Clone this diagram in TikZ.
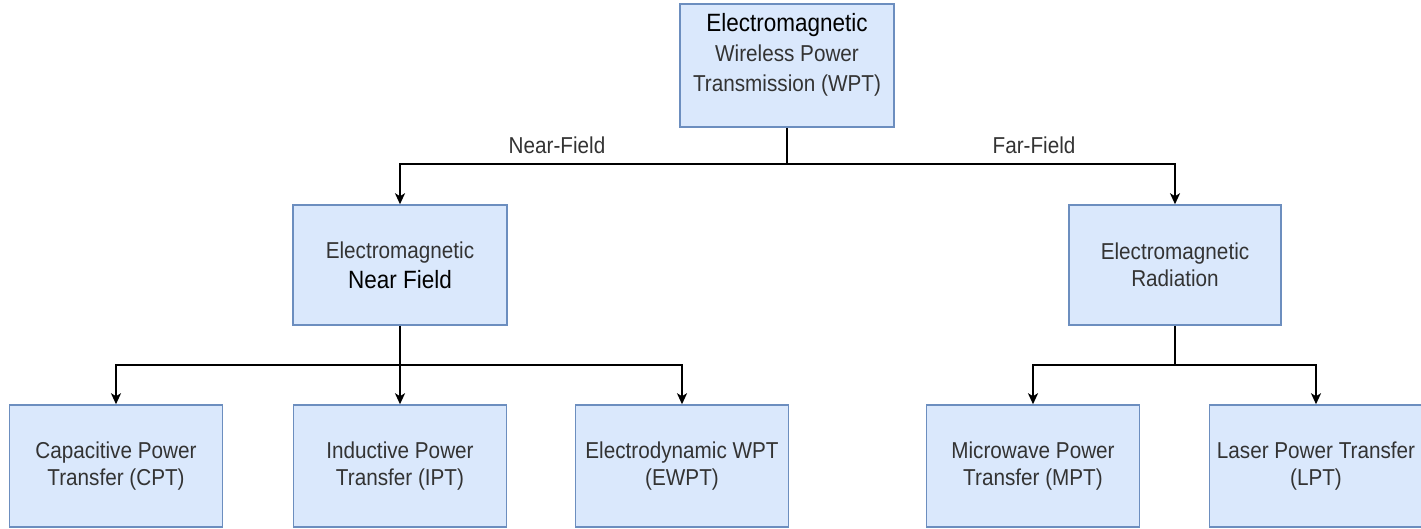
\documentclass[tikz,border=0pt]{standalone}
\usepackage{fontspec}
\setmainfont{Liberation Sans}[FakeStretch=0.9]
\usetikzlibrary{arrows.meta}
\definecolor{boxfill}{HTML}{DAE8FC}
\definecolor{boxline}{HTML}{6C8EBF}
\definecolor{txtgray}{HTML}{333333}
\begin{document}
\begin{tikzpicture}[x=1pt,y=-1pt,
  box/.style={draw=boxline, fill=boxfill, line width=1.5pt, minimum width=213pt,
    minimum height=122pt, inner sep=0pt, align=center, text=txtgray,
    font=\fontsize{23}{27}\selectfont},
  conn/.style={line width=2pt, draw=black},
  arr/.style={conn, -{Stealth[length=11pt,width=10pt,inset=3pt]}},
  lbl/.style={text=txtgray, font=\fontsize{23}{27}\selectfont, inner sep=0pt}]
\path[use as bounding box] (0,0) rectangle (1421,528);

% top
\node[box, minimum width=214pt, minimum height=123pt] (top) at (787,65.5) {};
\node[lbl, align=center, font=\fontsize{23}{30}\selectfont] (toptext) at (787,55)
  {{\fontsize{25}{30}\selectfont\color{black}Electromagnetic}\\Wireless Power\\Transmission (WPT)};

% middle
\node[box, minimum width=214pt, minimum height=120pt] (nf) at (400,265)
  {Electromagnetic\\[3pt]{\fontsize{25}{29}\selectfont\color{black}Near Field}};
\node[box, minimum width=212pt, minimum height=120pt] (rad) at (1175,265)
  {Electromagnetic\\Radiation};

% bottom
\node[box] (cpt) at (116,466) {Capacitive Power\\Transfer (CPT)};
\node[box] (ipt) at (400,466) {Inductive Power\\Transfer (IPT)};
\node[box] (ewpt) at (682,466) {Electrodynamic WPT\\(EWPT)};
\node[box] (mpt) at (1033,466) {Microwave Power\\Transfer (MPT)};
\node[box] (lpt) at (1316,466) {Laser Power Transfer\\(LPT)};

% connectors
\coordinate (s1) at (787,164);
\draw[conn] (top.south) -- (s1);
\draw[arr] (s1) -| (nf.north);
\draw[arr] (s1) -| (rad.north);
\node[lbl] (nfl) at (557,145) {Near-Field};
\node[lbl] (ffl) at (1034,145) {Far-Field};

\coordinate (s2) at (400,365);
\draw[conn] (nf.south) -- (s2);
\draw[arr] (s2) -| (cpt.north);
\draw[arr] (s2) -- (ipt.north);
\draw[arr] (s2) -| (ewpt.north);

\coordinate (s3) at (1175,365);
\draw[conn] (rad.south) -- (s3);
\draw[arr] (s3) -| (mpt.north);
\draw[arr] (s3) -| (lpt.north);
\end{tikzpicture}
\end{document}
